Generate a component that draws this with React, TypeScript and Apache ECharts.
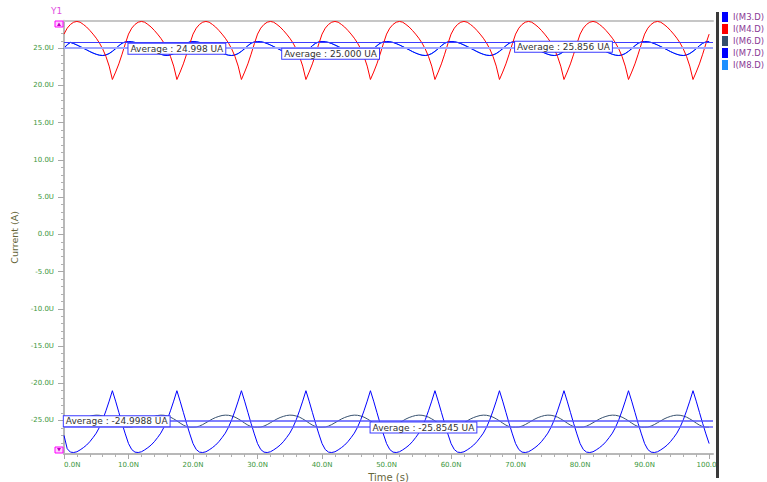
import React, { useEffect, useRef } from "react";
import * as echarts from "echarts";

// Sampling of the transient traces (ns)
const TIME_STEP_NS = 0.5;
const TIME_END_NS = 100;

// One steady-state 10 ns period of each drain current (uA), sampled every 0.5 ns
const m4Cycle = [26.9, 27.7, 28.2, 28.5, 28.6, 28.5, 28.2, 27.85, 27.4, 26.9, 26.35, 25.7, 24.9, 23.9, 22.6, 20.8, 21.8, 22.9, 24.2, 25.6];
const m3Cycle = [25.9, 25.88, 25.78, 25.62, 25.43, 25.22, 25.0, 24.78, 24.55, 24.35, 24.18, 24.06, 24.02, 24.1, 24.3, 24.6, 24.95, 25.35, 25.68, 25.86];
const m8Cycle = [25.88, 25.87, 25.79, 25.64, 25.45, 25.24, 25.02, 24.8, 24.57, 24.37, 24.2, 24.08, 24.03, 24.09, 24.27, 24.56, 24.92, 25.32, 25.65, 25.84];
const m6Cycle = [-25.9, -25.88, -25.75, -25.55, -25.3, -25.05, -24.8, -24.6, -24.45, -24.33, -24.28, -24.3, -24.4, -24.55, -24.78, -25.05, -25.35, -25.62, -25.82, -25.9];
const m7Cycle = [-28.1, -28.9, -29.25, -29.3, -29.2, -28.95, -28.65, -28.3, -27.85, -27.3, -26.7, -25.9, -24.9, -23.7, -22.4, -21.0, -22.4, -23.9, -25.4, -26.8];

// Start-up samples before each trace settles into its period
const m4Start: number[] = [];
const m3Start = [25.0, 25.5];
const m8Start = [25.0, 25.45];
const m6Start = [-25.0, -25.55];
const m7Start = [-27.0, -28.8];

// Trace names and colours
const seriesNames = ["I(M3.D)", "I(M4.D)", "I(M6.D)", "I(M7.D)", "I(M8.D)"];
const seriesColors = ["#0000ff", "#ff0000", "#36506e", "#0000ff", "#1e90ff"];

// Average markers: owning trace, value text, time where the readout sits
const averageOwners = ["I(M3.D)", "I(M8.D)", "I(M4.D)", "I(M6.D)", "I(M7.D)"];
const averageTexts = ["24.998", "25.000", "25.856", "-24.9988", "-25.8545"];
const averageLabelTimes = [10.07, 33.9, 70.0, 0.05, 47.6];

// Axis ticks
const xTicks = [0, 10, 20, 30, 40, 50, 60, 70, 80, 90, 100];
const yTicks = [-25, -20, -15, -10, -5, 0, 5, 10, 15, 20, 25];

const X_MIN = 0;
const X_MAX = 100.6;
const Y_MIN = -29.5;
const Y_MAX = 28.7;

const FONT = "DejaVu Sans";
const TICK_GREEN = "#3a963a";
const TITLE_OLIVE = "#66663a";

function buildTrace(cycle: number[], start: number[]): number[][] {
  const out: number[][] = [];
  const count = Math.round(TIME_END_NS / TIME_STEP_NS) + 1;
  for (let i = 0; i < count; i++) {
    const v = i < start.length ? start[i] : cycle[i % cycle.length];
    out.push([i * TIME_STEP_NS, v]);
  }
  return out;
}

const traces: Record<string, number[][]> = {
  "I(M3.D)": buildTrace(m3Cycle, m3Start),
  "I(M4.D)": buildTrace(m4Cycle, m4Start),
  "I(M6.D)": buildTrace(m6Cycle, m6Start),
  "I(M7.D)": buildTrace(m7Cycle, m7Start),
  "I(M8.D)": buildTrace(m8Cycle, m8Start),
};

// Look of each average line and where its readout box sits relative to it
const averageLineStyles = [
  { color: "#9ea6ff", width: 2.2 },
  { color: "#9ea6ff", width: 2.2 },
  { color: "#3c3cff", width: 1.2 },
  { color: "#5656ff", width: 1.5 },
  { color: "#6666ff", width: 1.5 },
];
const averageLabelShift = [-4, 1, 0.4, -3.7, -3.8];

function minorTicks(lo: number, hi: number, step: number, major: number): number[] {
  const out: number[] = [];
  const first = Math.ceil(lo / step) * step;
  for (let v = first; v <= hi + 1e-9; v += step) {
    const r = Math.round(v * 1000) / 1000;
    if (Math.abs(r / major - Math.round(r / major)) > 1e-6) out.push(r);
  }
  return out;
}

function buildOption(): echarts.EChartsOption {
  const order = ["I(M8.D)", "I(M3.D)", "I(M4.D)", "I(M6.D)", "I(M7.D)"];
  const series: any[] = order.map((name) => {
    const idx = seriesNames.indexOf(name);
    const avgIdx = averageOwners.indexOf(name);
    const s: any = {
      name,
      type: "line",
      data: traces[name],
      showSymbol: false,
      symbol: "none",
      color: seriesColors[idx],
      lineStyle: { color: seriesColors[idx], width: 1 },
      z: 2,
    };
    if (avgIdx >= 0) {
      const value = Number(averageTexts[avgIdx]);
      s.markLine = {
        silent: true,
        symbol: "none",
        label: { show: false },
        lineStyle: { type: "solid", ...averageLineStyles[avgIdx] },
        data: [{ yAxis: value }],
        animation: false,
      };
      s.markPoint = {
        silent: true,
        symbol: "rect",
        symbolSize: 1,
        itemStyle: { color: "rgba(0,0,0,0)" },
        animation: false,
        z: 6,
        data: [
          {
            coord: [averageLabelTimes[avgIdx], value],
            label: {
              show: true,
              position: [0, averageLabelShift[avgIdx]],
              formatter: `Average : ${averageTexts[avgIdx]} UA`,
              color: "#333333",
              fontFamily: FONT,
              fontSize: 9,
              lineHeight: 10,
              backgroundColor: "#ffffff",
              borderColor: "#3b3bff",
              borderWidth: 1,
              padding: [0, 2, 0, 2],
            },
          },
        ],
      };
    }
    return s;
  });

  return {
    animation: false,
    backgroundColor: "#ffffff",
    grid: { left: 64, right: 54, top: 20.7, bottom: 28, containLabel: false, outerBoundsMode: "none" },
    legend: {
      data: seriesNames,
      orient: "vertical",
      left: 722,
      top: 12,
      padding: 0,
      itemWidth: 6,
      itemHeight: 10,
      itemGap: 2,
      icon: "rect",
      selectedMode: false,
      textStyle: { color: "#8a3a96", fontSize: 8.5, fontFamily: FONT },
    },
    xAxis: [
      {
        type: "value",
        min: X_MIN,
        max: X_MAX,
        position: "bottom",
        axisLine: { show: true, onZero: false, lineStyle: { color: "#b8b8b8", width: 2 } },
        axisTick: { show: true, customValues: xTicks, length: 5, lineStyle: { color: "#a8a8a8" } },
        axisLabel: {
          customValues: xTicks,
          formatter: (v: number) => `${v.toFixed(1)}N`,
          color: TICK_GREEN,
          fontSize: 7,
          fontFamily: FONT,
          margin: 7,
          alignMinLabel: "left",
        },
        splitLine: { show: false },
        name: "Time (s)",
        nameLocation: "middle",
        nameGap: 11,
        nameTextStyle: { color: TITLE_OLIVE, fontSize: 10, fontFamily: FONT },
      },
      {
        type: "value",
        min: X_MIN,
        max: X_MAX,
        position: "bottom",
        axisLine: { show: false, onZero: false },
        axisTick: { show: true, customValues: minorTicks(X_MIN, 100, 2, 10), length: 3, lineStyle: { color: "#b0b0b0" } },
        axisLabel: { show: false },
        splitLine: { show: false },
      },
      {
        type: "value",
        min: X_MIN,
        max: X_MAX,
        position: "top",
        axisLine: { show: true, onZero: false, lineStyle: { color: "#c6c6c6", width: 2 } },
        axisTick: { show: false },
        axisLabel: { show: false },
        splitLine: { show: false },
      },
    ],
    yAxis: [
      {
        type: "value",
        min: Y_MIN,
        max: Y_MAX,
        position: "left",
        axisLine: { show: true, onZero: false, lineStyle: { color: "#b8b8b8", width: 2 } },
        axisTick: { show: true, customValues: yTicks, length: 6, lineStyle: { color: "#a8a8a8" } },
        axisLabel: {
          customValues: yTicks,
          formatter: (v: number) => `${v.toFixed(1)}U`,
          color: TICK_GREEN,
          fontSize: 7,
          fontFamily: FONT,
          margin: 10,
        },
        splitLine: { show: false },
        name: "Current (A)",
        nameLocation: "middle",
        nameGap: 40,
        nameTextStyle: { color: TITLE_OLIVE, fontSize: 9.5, fontFamily: FONT },
      },
      {
        type: "value",
        min: Y_MIN,
        max: Y_MAX,
        position: "left",
        axisLine: { show: false, onZero: false },
        axisTick: { show: true, customValues: minorTicks(Y_MIN, Y_MAX, 1, 5), length: 3, lineStyle: { color: "#b0b0b0" } },
        axisLabel: { show: false },
        splitLine: { show: false },
      },
    ],
    graphic: [
      // the plot panel ends at the divider; anything past it is covered
      { type: "rect", shape: { x: 719, y: 440, width: 48, height: 42 }, style: { fill: "#ffffff" }, z: 99 },
      { type: "rect", left: 716, top: 12, shape: { width: 3, height: 466 }, style: { fill: "#3a3a3a" }, z: 100 },
      { type: "text", left: 51, top: 6, style: { text: "Y1", fill: "#e050e0", fontSize: 9, fontFamily: FONT }, z: 100 },
      { type: "rect", shape: { x: 55, y: 21, width: 8, height: 6 }, style: { fill: "#ffd0ff", stroke: "#ff00ff", lineWidth: 1 }, z: 100 },
      { type: "polygon", shape: { points: [[57, 26], [59, 22.5], [61, 26]] }, style: { fill: "#c000c0" }, z: 101 },
      { type: "rect", shape: { x: 55, y: 447, width: 8, height: 6 }, style: { fill: "#ffd0ff", stroke: "#ff00ff", lineWidth: 1 }, z: 100 },
      { type: "polygon", shape: { points: [[57, 448], [61, 448], [59, 451.5]] }, style: { fill: "#c000c0" }, z: 101 },
    ],
    series,
  } as any;
}

export default function App() {
  const ref = useRef<HTMLDivElement>(null);
  useEffect(() => {
    if (!ref.current) return;
    const chart = echarts.init(ref.current, undefined, { renderer: "svg" });
    chart.setOption(buildOption());
    return () => chart.dispose();
  }, []);
  return (
    <div
      ref={ref}
      style={{ position: "fixed", left: 0, top: 0, width: 767, height: 482, background: "#fff" }}
    />
  );
}
